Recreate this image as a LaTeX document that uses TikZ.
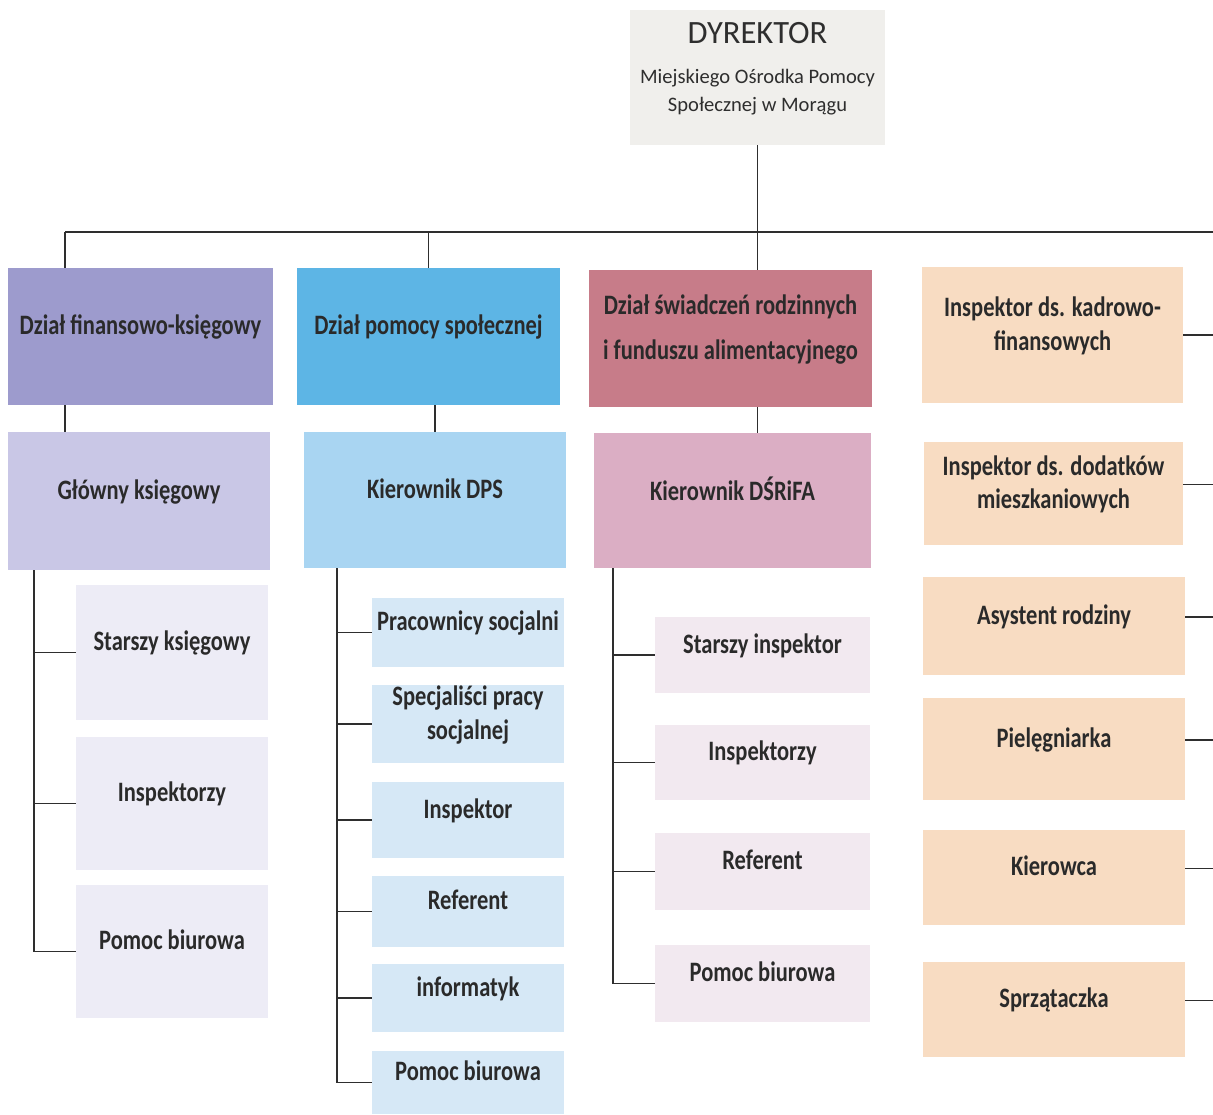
\documentclass[tikz,border=0pt]{standalone}
\usepackage{fontspec}
\setmainfont{Carlito}
\newfontfamily\narrowfont[FakeStretch=0.80]{Carlito}

\definecolor{dyrfill}{HTML}{F0EFEC}
\definecolor{dyrtxt}{HTML}{2E2E2E}
\definecolor{txt}{HTML}{2A2A2A}
\definecolor{linec}{HTML}{2E2E2E}
\definecolor{finA}{HTML}{9D9BCD}
\definecolor{finB}{HTML}{C9C7E6}
\definecolor{finC}{HTML}{EDECF6}
\definecolor{pomA}{HTML}{5DB5E5}
\definecolor{pomB}{HTML}{A9D5F2}
\definecolor{pomC}{HTML}{D6E8F6}
\definecolor{swiA}{HTML}{C77C89}
\definecolor{swiB}{HTML}{DBAEC4}
\definecolor{swiC}{HTML}{F2E9F0}
\definecolor{peach}{HTML}{F8DCC2}

\begin{document}
\begin{tikzpicture}[x=0.2mm, y=-0.2mm,
    box/.style={rectangle, align=center, inner sep=0pt, text=txt, text depth=4.6mm,
        font=\narrowfont\bfseries\fontsize{16}{19}\selectfont},
    wh/.style 2 args={minimum width=#1*0.2mm, minimum height=#2*0.2mm},
    link/.style={draw=linec, line width=1.1pt}]

\useasboundingbox (0,0) rectangle (1213,1114);

% dyrektor
\node (dyr) at (757.5,77.5) [box, wh={255}{135}, fill=dyrfill, text=dyrtxt, text depth=4.2mm,
    font=\fontsize{11.7}{16}\selectfont]
    {{\fontsize{18.5}{22}\selectfont DYREKTOR}\\[7pt]Miejskiego Ośrodka Pomocy\\Społecznej w Morągu};

% dzialy
\node (fin) at (140.5,336.5) [box, wh={265}{137}, fill=finA] {Dział finansowo-księgowy};
\node (pom) at (428.5,336.5) [box, wh={263}{137}, fill=pomA] {Dział pomocy społecznej};
\node (swi) at (730.5,338.5) [box, wh={283}{137}, fill=swiA] {Dział świadczeń rodzinnych\\[7pt]i funduszu alimentacyjnego};
\node (kadr) at (1052.5,335) [box, wh={261}{136}, fill=peach] {Inspektor ds. kadrowo-\\finansowych};

% kierownicy
\node (glk) at (139,501) [box, wh={262}{138}, fill=finB] {Główny księgowy};
\node (kdps) at (435,500) [box, wh={262}{136}, fill=pomB] {Kierownik DPS};
\node (kdsr) at (732.5,500.5) [box, wh={277}{135}, fill=swiB] {Kierownik DŚRiFA};
\node (dod) at (1053.5,493.5) [box, wh={259}{103}, fill=peach] {Inspektor ds. dodatków\\mieszkaniowych};

% finansowo-ksiegowy
\node (sk) at (172,652.5) [box, wh={192}{135}, fill=finC] {Starszy księgowy};
\node (ins1) at (172,803.5) [box, wh={192}{133}, fill=finC] {Inspektorzy};
\node (pb1) at (172,951.5) [box, wh={192}{133}, fill=finC] {Pomoc biurowa};

% pomoc spoleczna
\node (prac) at (468,632.5) [box, wh={192}{69}, fill=pomC] {Pracownicy socjalni};
\node (spec) at (468,724) [box, wh={192}{78}, fill=pomC] {Specjaliści pracy\\socjalnej};
\node (insp) at (468,820) [box, wh={192}{76}, fill=pomC] {Inspektor};
\node (ref2) at (468,911.5) [box, wh={192}{71}, fill=pomC] {Referent};
\node (inf) at (468,998) [box, wh={192}{68}, fill=pomC] {informatyk};
\node (pb2) at (468,1082.5) [box, wh={192}{63}, fill=pomC] {Pomoc biurowa};

% swiadczenia
\node (sti) at (762.5,655) [box, wh={215}{76}, fill=swiC] {Starszy inspektor};
\node (ins3) at (762.5,762.5) [box, wh={215}{75}, fill=swiC] {Inspektorzy};
\node (ref3) at (762.5,871.5) [box, wh={215}{77}, fill=swiC] {Referent};
\node (pb3) at (762.5,983.5) [box, wh={215}{77}, fill=swiC] {Pomoc biurowa};

% samodzielne
\node (asy) at (1054,626) [box, wh={262}{98}, fill=peach] {Asystent rodziny};
\node (piel) at (1054,749) [box, wh={262}{102}, fill=peach] {Pielęgniarka};
\node (kier) at (1054,877.5) [box, wh={262}{95}, fill=peach] {Kierowca};
\node (sprz) at (1054,1009.5) [box, wh={262}{95}, fill=peach] {Sprzątaczka};

% polaczenia
\coordinate (busL) at (65,232);
\coordinate (busR) at (1213,232);
\draw[link] (busL) -- (busR);
\draw[link] (dyr.south) -- (dyr.south |- swi.north);
\draw[link] (busL) -- (busL |- fin.north);
\draw[link] (pom.north |- busL) -- (pom.north);
\draw[link] (busL |- fin.south) -- (busL |- glk.north);
\draw[link] (kdps.north |- pom.south) -- (kdps.north);
\draw[link] (dyr.south |- swi.south) -- (dyr.south |- kdsr.north);

\coordinate (sp1) at (34,570);
\coordinate (sp2) at (337,568);
\coordinate (sp3) at (613,568);
\draw[link] (sp1) |- (pb1.west);
\foreach \n in {sk,ins1} \draw[link] (sp1 |- \n.west) -- (\n.west);
\draw[link] (sp2) |- (pb2.west);
\foreach \n in {prac,spec,insp,ref2,inf} \draw[link] (sp2 |- \n.west) -- (\n.west);
\draw[link] (sp3) |- (pb3.west);
\foreach \n in {sti,ins3,ref3} \draw[link] (sp3 |- \n.west) -- (\n.west);
\draw[link] (kadr.east) -- (kadr.east -| busR);
\foreach \n in {dod,asy,piel,kier,sprz} \draw[link] ([yshift=1.8mm]\n.east) -- ([yshift=1.8mm]\n.east -| busR);

\end{tikzpicture}
\end{document}
